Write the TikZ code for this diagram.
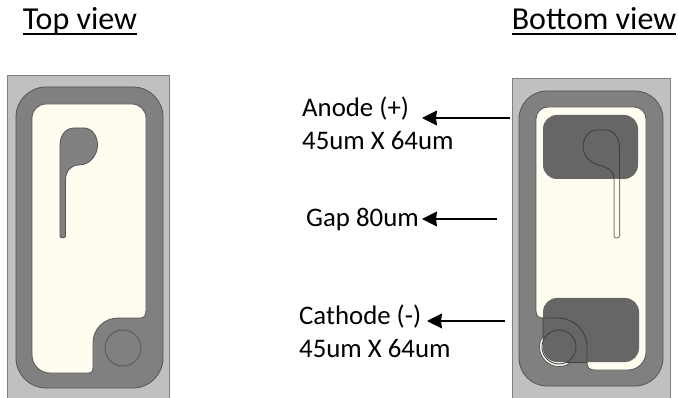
\documentclass[tikz,border=0pt]{standalone}
\usepackage{fontspec}
\setmainfont{Carlito}
\usetikzlibrary{arrows.meta}
\definecolor{chipgray}{HTML}{C0C0C0}
\definecolor{ringgray}{HTML}{808080}
\definecolor{creamy}{HTML}{FFFCF0}
\definecolor{padgray}{HTML}{666666}
\definecolor{edgegray}{HTML}{555555}
\newcommand\thickul[1]{\vtop{\hbox{\smash{#1}}\kern 3.2pt\hrule height 2.6pt}}
\tikzset{
  chip/.style={fill=chipgray,draw=ringgray,line width=0.8pt},
  ring/.style={fill=ringgray,draw=edgegray,line width=0.8pt},
  metal/.style={fill=creamy,draw=edgegray,line width=0.8pt},
  pad/.style={fill=padgray,draw=none},
  outline/.style={draw=black!75,line width=0.9pt},
  lbl/.style={font=\fontsize{26.8}{33}\selectfont,anchor=base west,inner sep=0pt,align=left},
  ttl/.style={font=\fontsize{32}{38}\selectfont,inner sep=0pt,anchor=base},
  pointer/.style={draw=black,line width=1.3pt,-{Stealth[length=15pt,width=15pt,inset=1pt]}}
}
\begin{document}
\begin{tikzpicture}[x=1pt,y=-1pt]
\useasboundingbox (0,0) rectangle (678,398);
\fill[white] (0,0) rectangle (678,398);
% titles
\node[ttl] (top) at (80,29.5) {\thickul{Top view}};
\node[ttl] (bottom) at (594,29.5) {\thickul{Bottom view}};
% left chip
\path[chip] (7,75) rectangle (169,398);
\draw[ring,rounded corners=30pt] (16,87) rectangle (163,388);
\draw[metal] (46,104) -- (132,104) arc[start angle=-90,end angle=0,radius=14] -- (146,310)
  .. controls (146,316) and (144,318) .. (140,318) -- (118,318)
  .. controls (104,318) and (93,329) .. (93,343) -- (93,367)
  .. controls (93,371) and (92,373) .. (88,373) -- (50,373)
  arc[start angle=90,end angle=180,radius=18] -- (32,118)
  arc[start angle=180,end angle=270,radius=14] -- cycle;
\draw[ring] (60,236) -- (60,145)
  .. controls (60,135) and (66,128) .. (74,128) -- (84,128)
  .. controls (92,128) and (97.5,136) .. (97.5,145)
  .. controls (97.5,155) and (90,165) .. (79,165)
  .. controls (71,165) and (65.5,171) .. (65.5,180) -- (65.5,236)
  .. controls (65.5,238.5) and (60,238.5) .. (60,236) -- cycle;
\draw[ring] (123,348) circle[radius=18];
% right chip
\path[chip] (512,78) rectangle (670,398);
\draw[ring,rounded corners=28pt] (519,91) rectangle (663,386);
\draw[metal] (548,107) -- (634,107) arc[start angle=-90,end angle=0,radius=12] -- (646,352)
  arc[start angle=0,end angle=90,radius=18] -- (595,370)
  .. controls (590,370) and (587,368) .. (587,363) -- (587,347)
  arc[start angle=0,end angle=-90,radius=29] -- (543,318)
  .. controls (539,318) and (536,316) .. (536,311) -- (536,119)
  arc[start angle=180,end angle=270,radius=12] -- cycle;
\draw[metal] (559,347) circle[radius=19.5];
\fill[pad,rounded corners=14pt] (543,115) rectangle (638,179);
\fill[pad,rounded corners=14pt] (543,298) rectangle (639,362);
\draw[outline] (559,347) circle[radius=17];
\draw[outline] (543,340) -- (543,318) -- (558,318) arc[start angle=-90,end angle=0,radius=29] -- (587,363);
\draw[outline] (566,362.5) -- (587,362.5);
% keyhole, mirrored
\draw[draw=ringgray,fill=creamy,line width=1pt] (614,179) -- (614,236)
  .. controls (614,238.5) and (619.5,238.5) .. (619.5,236) -- (619.5,179);
\draw[outline] (619.5,179) -- (619.5,147)
  .. controls (619.5,137) and (613,130) .. (605,130) -- (596,130)
  .. controls (589,130) and (583,138) .. (583,147)
  .. controls (583,157) and (592,164) .. (602,166)
  .. controls (609,168) and (614,172) .. (614,179);
% labels and pointers
\node[lbl] (anode) at (302,150) {Anode (+)\\45um X 64um};
\node[lbl] (gap) at (306,227) {Gap 80um};
\node[lbl] (cathode) at (299,358) {Cathode (-)\\45um X 64um};
\coordinate (pa) at (510,118);
\coordinate (pb) at (497,219);
\coordinate (pc) at (505,321);
\coordinate (qa) at (422,118);
\coordinate (qb) at (422,219);
\coordinate (qc) at (427,321);
\draw[pointer] (pa) -- (qa);
\draw[pointer] (pb) -- (qb);
\draw[pointer] (pc) -- (qc);
\end{tikzpicture}
\end{document}
